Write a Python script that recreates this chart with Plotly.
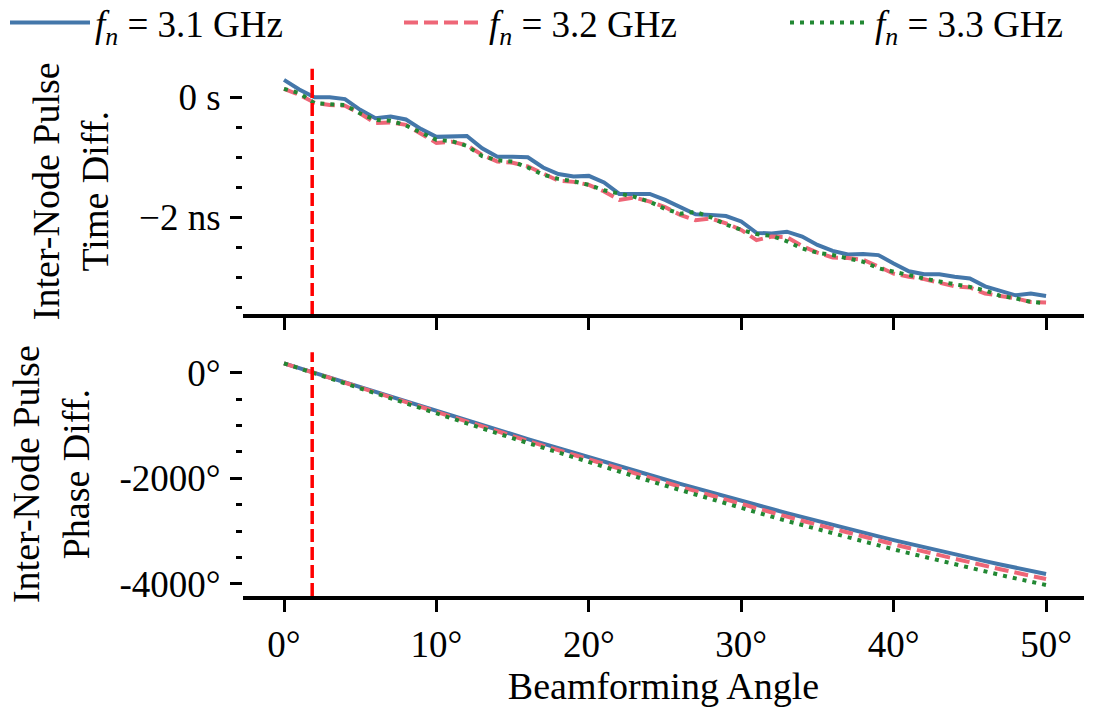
import plotly.graph_objects as go

# ---------------- data ----------------
angles = list(range(51))  # beamforming angle in degrees

series_names = [
    "<i>f</i><sub><i>n</i></sub> = 3.1 GHz",
    "<i>f</i><sub><i>n</i></sub> = 3.2 GHz",
    "<i>f</i><sub><i>n</i></sub> = 3.3 GHz",
]

# inter-node pulse time difference (ns)
time_31 = [0.29, 0.13, 0.00, 0.00, -0.03, -0.21, -0.35, -0.32, -0.37, -0.53,
           -0.66, -0.645, -0.645, -0.85, -0.99, -0.99, -1.00, -1.17, -1.28, -1.32,
           -1.31, -1.42, -1.61, -1.61, -1.61, -1.71, -1.83, -1.95, -1.96, -1.98,
           -2.07, -2.26, -2.27, -2.24, -2.32, -2.46, -2.56, -2.62, -2.61, -2.63,
           -2.77, -2.90, -2.95, -2.95, -2.99, -3.02, -3.15, -3.22, -3.30, -3.27,
           -3.31]
time_32 = [0.14, 0.04, -0.09, -0.13, -0.14, -0.27, -0.43, -0.42, -0.46, -0.61,
           -0.76, -0.74, -0.80, -0.96, -1.07, -1.09, -1.15, -1.27, -1.39, -1.41,
           -1.46, -1.57, -1.71, -1.67, -1.74, -1.83, -1.96, -2.05, -2.02, -2.10,
           -2.21, -2.38, -2.32, -2.33, -2.48, -2.59, -2.67, -2.68, -2.71, -2.82,
           -2.94, -2.99, -3.03, -3.09, -3.15, -3.17, -3.27, -3.31, -3.35, -3.41,
           -3.42]
time_33 = [0.14, 0.07, -0.10, -0.12, -0.13, -0.27, -0.38, -0.39, -0.47, -0.59,
           -0.71, -0.73, -0.81, -0.98, -1.05, -1.07, -1.17, -1.29, -1.36, -1.40,
           -1.46, -1.55, -1.61, -1.66, -1.74, -1.86, -1.94, -1.91, -2.00, -2.12,
           -2.21, -2.28, -2.31, -2.40, -2.52, -2.59, -2.63, -2.68, -2.74, -2.85,
           -2.91, -2.97, -3.02, -3.07, -3.11, -3.16, -3.22, -3.31, -3.35, -3.41,
           -3.43]

# inter-node pulse phase difference (degrees)
phase_31 = [178, 87, -4, -95, -185, -276, -367, -457, -547, -637,
            -727, -816, -905, -994, -1082, -1170, -1258, -1345, -1432, -1518,
            -1604, -1689, -1773, -1857, -1941, -2023, -2105, -2187, -2267, -2347,
            -2426, -2505, -2582, -2659, -2735, -2810, -2884, -2957, -3029, -3100,
            -3170, -3239, -3307, -3374, -3440, -3505, -3569, -3632, -3693, -3753,
            -3812]
phase_32 = [178, 85, -8, -101, -194, -287, -379, -472, -564, -656,
            -748, -840, -931, -1022, -1112, -1202, -1292, -1381, -1470, -1558,
            -1646, -1733, -1820, -1906, -1991, -2076, -2160, -2243, -2326, -2408,
            -2489, -2569, -2648, -2727, -2804, -2881, -2957, -3032, -3105, -3178,
            -3250, -3321, -3391, -3459, -3527, -3593, -3658, -3722, -3785, -3847,
            -3907]
phase_33 = [178, 82, -13, -109, -204, -300, -395, -490, -585, -680,
            -774, -868, -962, -1055, -1148, -1241, -1333, -1425, -1516, -1607,
            -1697, -1787, -1876, -1964, -2052, -2139, -2225, -2311, -2396, -2480,
            -2563, -2645, -2727, -2808, -2887, -2966, -3044, -3121, -3197, -3272,
            -3346, -3418, -3490, -3561, -3630, -3698, -3765, -3831, -3896, -3959,
            -4021]

marker_angle = 1.85  # vertical reference line (degrees)

x_tickvals = [0, 10, 20, 30, 40, 50]
x_ticktext = ["0°", "10°", "20°", "30°", "40°", "50°"]
time_tickvals = [0, -2]
time_ticktext = ["0 s", "\u22122 ns"]
time_minor = [-0.5, -1, -1.5, -2.5, -3, -3.5]
phase_tickvals = [0, -2000, -4000]
phase_ticktext = ["0°", "-2000°", "-4000°"]
phase_minor = [-500, -1000, -1500, -2500, -3000, -3500]

# ---------------- style ----------------
colors = ["#4477AA", "#EE6677", "#228833"]
dashes = ["solid", "14px,6px", "4px,6px"]
legend_ids = ["legend", "legend2", "legend3"]
legend_x_px = [5, 399, 785]
FONT = "Liberation Serif"
FS = 37
FS_TITLE = 38
W, H = 1116, 709
MT, MB = 60, 0  # fixed margins (top margin reserved for the legends)


def dom(top_px, bottom_px):
    h = H - MT - MB
    return [1 - (bottom_px - MT) / h, 1 - (top_px - MT) / h]


fig = go.Figure()
time_series = [time_31, time_32, time_33]
phase_series = [phase_31, phase_32, phase_33]
for name, col, dsh, ts, lg in zip(series_names, colors, dashes, time_series, legend_ids):
    fig.add_trace(go.Scatter(x=angles, y=ts, mode="lines", name=name,
                             line=dict(color=col, width=4, dash=dsh),
                             xaxis="x", yaxis="y", legendgroup=name, legend=lg))
for name, col, dsh, ps in zip(series_names, colors, dashes, phase_series):
    fig.add_trace(go.Scatter(x=angles, y=ps, mode="lines", name=name,
                             line=dict(color=col, width=4, dash=dsh),
                             xaxis="x2", yaxis="y2", legendgroup=name,
                             showlegend=False))

for yref in ["y domain", "y2 domain"]:
    xref = "x" if yref.startswith("y ") else "x2"
    fig.add_shape(type="line", xref=xref, yref=yref,
                  x0=marker_angle, x1=marker_angle, y0=0, y1=1,
                  line=dict(color="#FF0000", width=3.5, dash="13px,5px"))

xdom = [243 / W, 1084 / W]
top_dom = dom(68.7, 313.9)
bot_dom = dom(352.2, 596.1)
xrange_ = [-2.69, 52.49]

common_x = dict(range=xrange_, domain=xdom, tickvals=x_tickvals, ticktext=x_ticktext,
                ticks="outside", ticklen=12, tickwidth=2.5, tickcolor="black",
                showline=True, linewidth=4, linecolor="black", showgrid=False,
                zeroline=False, automargin=False,
                tickfont=dict(family=FONT, size=FS, color="black"))

legend_layouts = {}
for lg, xp in zip(legend_ids, legend_x_px):
    legend_layouts[lg] = dict(orientation="h", x=xp / W, xanchor="left",
                              xref="container", yref="container",
                              y=1 - 23 / H, yanchor="middle", itemwidth=80,
                              font=dict(family=FONT, size=FS, color="black"),
                              bgcolor="rgba(0,0,0,0)", borderwidth=0)

fig.update_layout(
    width=W, height=H,
    margin=dict(l=0, r=0, t=MT, b=MB),
    paper_bgcolor="white", plot_bgcolor="white",
    font=dict(family=FONT, size=FS, color="black"),
    showlegend=True,
    **legend_layouts,
    xaxis=dict(common_x, anchor="y", matches="x2", showticklabels=False),
    xaxis2=dict(common_x, anchor="y2",
                title=dict(text="Beamforming Angle", standoff=10,
                           font=dict(family=FONT, size=FS_TITLE, color="black"))),
    yaxis=dict(domain=top_dom, range=[-3.61, 0.476], anchor="x",
               tickvals=time_tickvals, ticktext=time_ticktext,
               ticks="outside", ticklen=12, tickwidth=2.5, tickcolor="black",
               ticklabelstandoff=2, automargin=False,
               minor=dict(tickvals=time_minor, ticks="outside", ticklen=6,
                          tickwidth=2.5, tickcolor="black"),
               showline=False, showgrid=False, zeroline=False,
               title=dict(text="Inter-Node Pulse<br>Time Diff.", standoff=18,
                          font=dict(family=FONT, size=FS_TITLE, color="black"))),
    yaxis2=dict(domain=bot_dom, range=[-4231, 388], anchor="x2",
                tickvals=phase_tickvals, ticktext=phase_ticktext,
                ticks="outside", ticklen=12, tickwidth=2.5, tickcolor="black",
                ticklabelstandoff=2, automargin=False,
                minor=dict(tickvals=phase_minor, ticks="outside", ticklen=6,
                           tickwidth=2.5, tickcolor="black"),
                showline=False, showgrid=False, zeroline=False,
                title=dict(text="Inter-Node Pulse<br>Phase Diff.", standoff=18,
                           font=dict(family=FONT, size=FS_TITLE, color="black"))),
)

fig.write_html("out.html")
